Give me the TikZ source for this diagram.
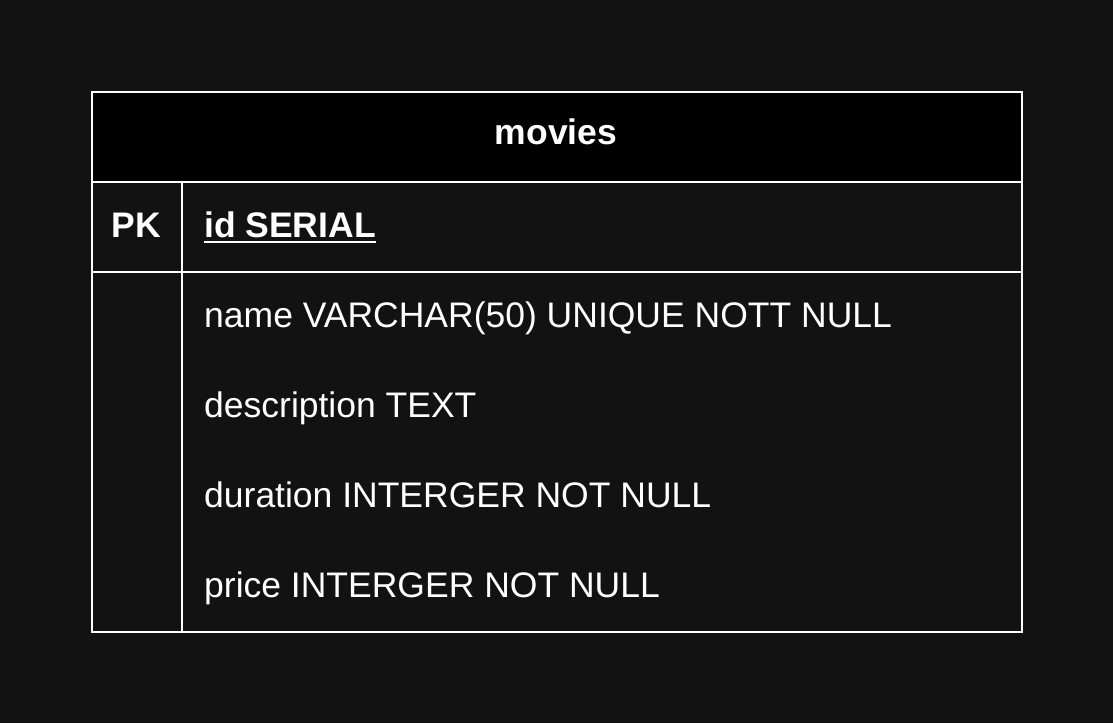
\documentclass[tikz,border=0pt]{standalone}
\usepackage{fontspec}
\setmainfont{Liberation Sans}
\usetikzlibrary{positioning}
\definecolor{canvas}{HTML}{121212}

\begin{document}
\begin{tikzpicture}[x=1pt,y=-1pt,
    cell/.style={draw=white,line width=2pt,inner sep=0pt,anchor=north west},
    field/.style={anchor=base west,inner sep=0pt,text=white,font=\fontsize{35.5}{42}\selectfont},
    keyfield/.style={field,font=\fontsize{35.5}{42}\selectfont\bfseries}]
    \fill[canvas] (0,0) rectangle (1113,723);
    \useasboundingbox (0,0) rectangle (1113,723);
    %cells
    \node[cell,fill=black,minimum width=930,minimum height=90] (head) at (91,91) {};
    \node[cell,minimum width=90,minimum height=90] (pkcell) at (91,181) {};
    \node[cell,minimum width=840,minimum height=90] (idcell) at (181,181) {};
    \node[cell,minimum width=90,minimum height=360] (keycol) at (91,271) {};
    \node[cell,minimum width=840,minimum height=360] (body) at (181,271) {};
    %texts
    \node[keyfield,anchor=base] (title) at (556,144) {movies};
    \node[keyfield,anchor=base] (pk) at (136,237) {PK};
    \node[keyfield] (id) at (204,237) {id SERIAL};
    \node[field] (name) at (204,327) {name VARCHAR(50) UNIQUE NOTT NULL};
    \node[field] (desc) at (204,417) {description TEXT};
    \node[field] (dur) at (204,507) {duration INTERGER NOT NULL};
    \node[field] (price) at (204,597) {price INTERGER NOT NULL};
    %underline
    \draw[white,line width=2pt] ([yshift=-5pt]id.base west) -- ([yshift=-5pt]id.base east);
\end{tikzpicture}
\end{document}
